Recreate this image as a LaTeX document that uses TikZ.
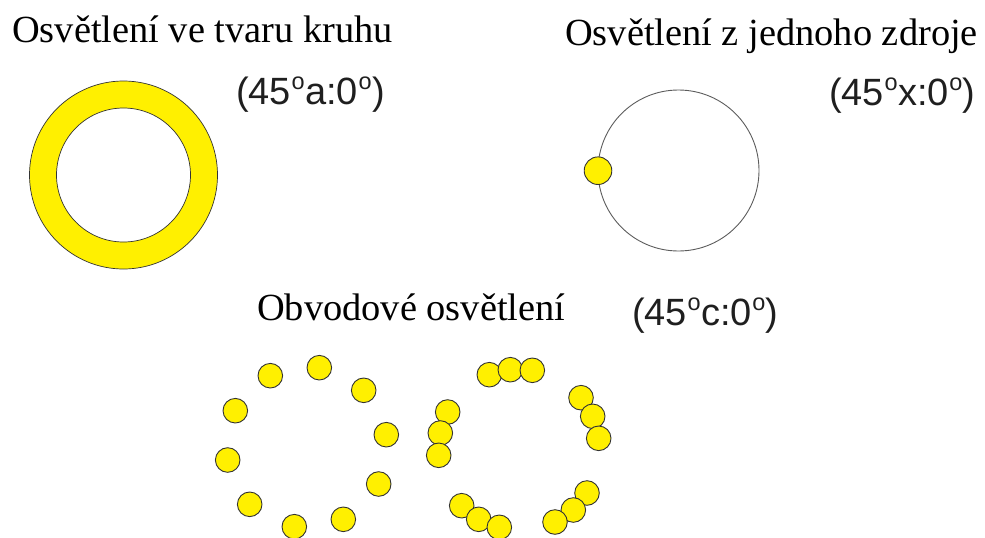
\documentclass[tikz,border=0pt]{standalone}
\usepackage{fontspec}
\setmainfont{Liberation Serif}
\newfontfamily\arialf{Liberation Sans}
\newcommand{\dgr}{\kern0.5pt\raisebox{14.5pt}{\fontsize{23.5}{23.5}\selectfont o}\kern0.5pt}
\definecolor{lampyellow}{HTML}{FFF000}
\definecolor{edgegray}{HTML}{333333}
\tikzset{
  titletext/.style={anchor=base west, inner sep=0pt, font=\fontsize{38.4}{44}\selectfont},
  codetext/.style={anchor=base west, inner sep=0pt, font=\arialf\fontsize{38}{44}\selectfont, text=black!88},
  lamp/.style={draw=edgegray, line width=0.9pt, fill=lampyellow},
}
\begin{document}
\begin{tikzpicture}[x=1pt,y=-1pt]
\useasboundingbox (0,0) rectangle (985,538);
% titles
\node[titletext] (t1) at (12,42) {Osvětlení ve tvaru kruhu};
\node[titletext] (t2) at (565,45) {Osvětlení z jednoho zdroje};
\node[titletext] (t3) at (257,320) {Obvodové osvětlení};
\node[codetext] (c1) at (236,104) {(45\dgr a:0\dgr)};
\node[codetext] (c2) at (829,105) {(45\dgr x:0\dgr)};
\node[codetext] (c3) at (632,325) {(45\dgr c:0\dgr)};
% ring
\path[draw=edgegray, line width=0.7pt, fill=lampyellow, even odd rule]
  (123.5,175) circle (94) (123.5,175) circle (67);
% single source
\draw[edgegray!80, line width=0.9pt] (678.5,170.5) circle (80.5);
\path[lamp] (598,170.7) circle (13.8);
% perimeter lights, left group
\foreach \px/\py in {270.3/375.7, 319.3/367.7, 363.7/390.3, 235.3/410.7,
  386.3/434.7, 227.7/460, 378.7/484, 249.7/504.3, 294.3/526.7, 343.3/519.3}
  \path[lamp] (\px,\py) circle (12.3);
% perimeter lights, right group
\foreach \px/\py in {489.3/374.7, 510.3/369.7, 532.3/370.3, 447.7/412,
  440.3/433, 438.7/455.3, 581/397.7, 592.7/416.3, 598.7/438.3,
  461.7/505.7, 478.7/519.3, 499.3/527.3, 587/493, 573.3/510, 555/522}
  \path[lamp] (\px,\py) circle (12.3);
\end{tikzpicture}
\end{document}
